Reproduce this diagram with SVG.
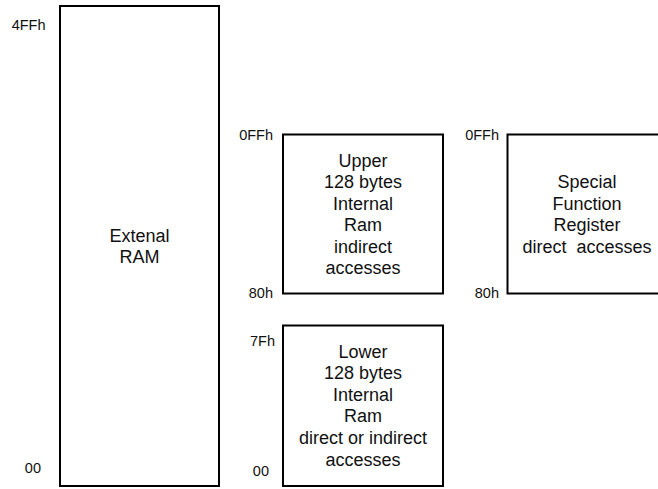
<svg xmlns="http://www.w3.org/2000/svg" width="658" height="489" viewBox="0 0 658 489">
<style>
.box{fill:#fff;stroke:#000;stroke-width:2}
.t{font-family:"Liberation Sans",Arial,sans-serif;font-size:18px;fill:#111;text-anchor:middle;white-space:pre}
.l{font-family:"Liberation Sans",Arial,sans-serif;font-size:14.5px;fill:#111;text-anchor:end}
</style>
<rect width="658" height="489" fill="#fff"/>
<g id="external-ram">
<rect class="box" x="60" y="6" width="159" height="480"/>
<text class="t" x="139.5" y="242">Extenal</text>
<text class="t" x="139.5" y="263">RAM</text>
<text class="l" x="45.5" y="29.5">4FFh</text>
<text class="l" x="41" y="473">00</text>
</g>
<g id="upper-internal-ram">
<rect class="box" x="283" y="134.5" width="160" height="159"/>
<text class="t" x="363" y="166.5">Upper</text>
<text class="t" x="363" y="188">128 bytes</text>
<text class="t" x="363" y="209.5">Internal</text>
<text class="t" x="363" y="231">Ram</text>
<text class="t" x="363" y="252.5">indirect</text>
<text class="t" x="363" y="274">accesses</text>
<text class="l" x="273" y="139.5">0FFh</text>
<text class="l" x="273" y="298">80h</text>
</g>
<g id="sfr">
<rect class="box" x="507.5" y="134.5" width="160" height="159"/>
<text class="t" x="587" y="188">Special</text>
<text class="t" x="587" y="209.5">Function</text>
<text class="t" x="587" y="231">Register</text>
<text class="t" x="587" y="252.5" xml:space="preserve">direct  accesses</text>
<text class="l" x="499" y="139.5">0FFh</text>
<text class="l" x="499" y="298">80h</text>
</g>
<g id="lower-internal-ram">
<rect class="box" x="283" y="325.5" width="160" height="160.5"/>
<text class="t" x="363" y="357.5">Lower</text>
<text class="t" x="363" y="379">128 bytes</text>
<text class="t" x="363" y="400.5">Internal</text>
<text class="t" x="363" y="422">Ram</text>
<text class="t" x="363" y="444">direct or indirect</text>
<text class="t" x="363" y="466">accesses</text>
<text class="l" x="275" y="346">7Fh</text>
<text class="l" x="269" y="476">00</text>
</g>
<g id="connectors"/>
</svg>
